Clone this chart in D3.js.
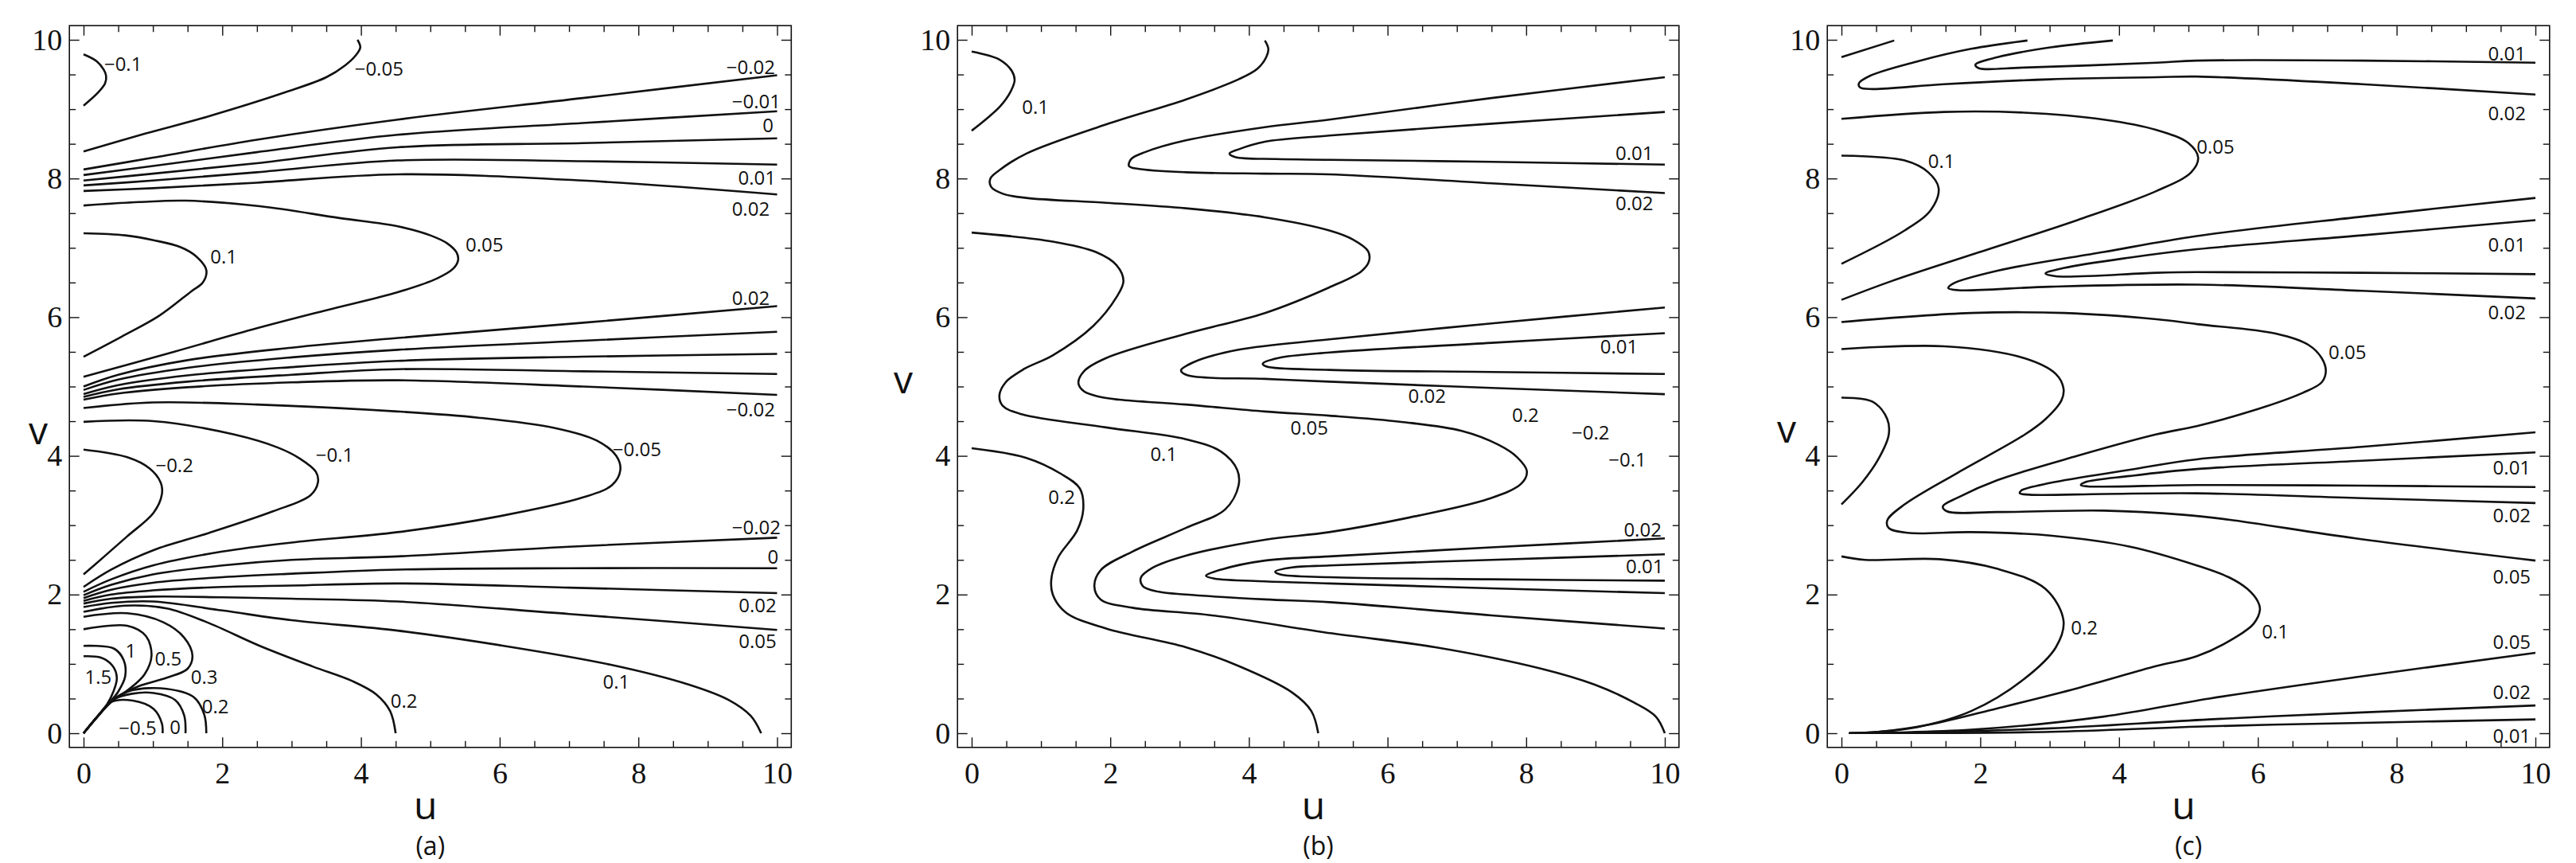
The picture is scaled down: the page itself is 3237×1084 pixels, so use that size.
<!DOCTYPE html>
<html><head><meta charset="utf-8">
<script src="https://cdn.jsdelivr.net/npm/d3@7"></script>
<style>html,body{margin:0;padding:0;background:#fff;}</style>
</head><body>
<svg id="chart" width="3237" height="1084"></svg>
<script>
// ---------- tick values ----------
const majorTicks = [0, 2, 4, 6, 8, 10];
const tickLabels = ["0", "2", "4", "6", "8", "10"];
const minorTicks = d3.range(0, 10.01, 0.5).filter(t => t % 2 !== 0);

// ---------- panel (a) contours: [u, v] points ----------
const contoursA = [
  {level: "−0.1", pts: [[0,9.79],[0.19,9.69],[0.29,9.57],[0.325,9.48],[0.31,9.37],[0.21,9.24],[0,9.05]]},
  {level: "−0.05", pts: [[0,8.39],[0.9,8.65],[1.78,8.89],[2.93,9.25],[3.50,9.46],[3.77,9.63],[3.92,9.77],[3.99,9.89],[3.95,10.0]]},
  {level: "−0.02", pts: [[0,8.13],[1,8.30],[2.5,8.56],[4.53,8.85],[7.2,9.16],[10,9.49]]},
  {level: "−0.01", pts: [[0,8.05],[1,8.18],[2.5,8.38],[4.53,8.63],[7.2,8.80],[10,8.97]]},
  {level: "0", pts: [[0,7.97],[1,8.07],[2.5,8.22],[4.53,8.45],[7.2,8.51],[10,8.58]]},
  {level: "0.01", pts: [[0,7.90],[1,7.97],[2.5,8.09],[4.53,8.26],[7.2,8.25],[10,8.20]]},
  {level: "0.02", pts: [[0,7.82],[1,7.86],[2.5,7.94],[4.53,8.06],[7.2,7.97],[10,7.77]]},
  {level: "0.05", pts: [[0,7.61],[0.8,7.66],[1.47,7.68],[2.54,7.60],[3.69,7.43],[4.53,7.31],[5.0,7.18],[5.25,7.06],[5.38,6.93],[5.40,6.82],[5.33,6.70],[5.10,6.56],[4.53,6.36],[3.5,6.10],[2.5,5.84],[1.3,5.50],[0,5.14]]},
  {level: "0.1", pts: [[0,7.21],[0.6,7.18],[1.01,7.11],[1.40,7.01],[1.62,6.88],[1.77,6.68],[1.72,6.50],[1.55,6.37],[1.09,6.02],[0.55,5.72],[0,5.43]]},
  {level: "0.02", pts: [[0,5.00],[0.5,5.17],[1.5,5.38],[3,5.56],[4.53,5.70],[7.2,5.92],[10,6.16]]},
  {level: "0.01", pts: [[0,4.95],[0.5,5.10],[1.5,5.27],[3,5.42],[4.53,5.53],[7.2,5.66],[10,5.79]]},
  {level: "0", pts: [[0,4.89],[0.5,5.02],[1.5,5.16],[3,5.28],[4.53,5.37],[7.2,5.43],[10,5.47]]},
  {level: "−0.01", pts: [[0,4.85],[0.5,4.96],[1.5,5.07],[3,5.17],[4.53,5.25],[7.2,5.22],[10,5.18]]},
  {level: "−0.02", pts: [[0,4.81],[0.5,4.90],[1.5,4.99],[3,5.06],[4.53,5.09],[7.2,5.00],[10,4.88]]},
  {level: "−0.05", pts: [[0,4.69],[1.0,4.77],[2.5,4.74],[4.53,4.64],[5.7,4.55],[6.8,4.40],[7.4,4.22],[7.68,4.00],[7.74,3.80],[7.62,3.58],[7.2,3.40],[6.0,3.13],[4.53,2.90],[3.0,2.75],[2.0,2.62],[1.0,2.42],[0.4,2.22],[0,2.04]]},
  {level: "−0.1", pts: [[0,4.49],[1.01,4.50],[2.16,4.31],[2.8,4.12],[3.12,3.96],[3.35,3.77],[3.38,3.62],[3.27,3.43],[2.73,3.20],[1.78,2.88],[1.01,2.64],[0.4,2.36],[0,2.11]]},
  {level: "−0.2", pts: [[0,4.09],[0.63,3.98],[0.95,3.82],[1.11,3.62],[1.13,3.45],[1.01,3.18],[0.63,2.84],[0.3,2.55],[0,2.29]]},
  {level: "−0.02", pts: [[0,1.99],[0.4,2.14],[1.0,2.29],[2.0,2.42],[3.0,2.50],[4.53,2.55],[7,2.69],[10,2.82]]},
  {level: "0", pts: [[0,1.95],[0.4,2.07],[1.0,2.17],[2.0,2.25],[3,2.30],[4.53,2.36],[7,2.38],[10,2.38]]},
  {level: "0.02", pts: [[0,1.91],[0.4,2.00],[1.0,2.06],[2.0,2.11],[3,2.13],[4.53,2.16],[7,2.10],[10,2.02]]},
  {level: "0.05", pts: [[0,1.87],[0.4,1.94],[1.0,1.97],[2.0,1.96],[3,1.94],[4.53,1.90],[7,1.72],[10,1.49]]},
  {level: "0.1", pts: [[0,1.82],[0.4,1.88],[1.0,1.90],[2,1.77],[3,1.63],[4.53,1.48],[6,1.27],[7.59,0.99],[8.73,0.70],[9.3,0.48],[9.62,0.25],[9.77,0]]},
  {level: "0.2", pts: [[0,1.75],[0.6,1.84],[1.2,1.80],[1.78,1.60],[2.54,1.26],[3.31,0.96],[3.88,0.75],[4.22,0.56],[4.42,0.32],[4.50,0]]},
  {level: "0.3", pts: [[0,1.68],[0.63,1.73],[1.15,1.60],[1.45,1.38],[1.57,1.12],[1.50,0.93],[1.20,0.80],[0.80,0.68],[0.45,0.50],[0.2,0.24],[0,0]]},
  {level: "0.5", pts: [[0,1.50],[0.63,1.55],[0.90,1.40],[0.98,1.12],[0.88,0.85],[0.65,0.63],[0.42,0.47],[0.2,0.24],[0,0]]},
  {level: "1", pts: [[0,1.26],[0.44,1.22],[0.58,1.05],[0.60,0.82],[0.50,0.60],[0.38,0.45],[0.2,0.24],[0,0]]},
  {level: "1.5", pts: [[0,1.11],[0.25,1.09],[0.42,0.97],[0.48,0.80],[0.43,0.60],[0.34,0.42],[0.18,0.22],[0,0]]},
  {level: "0.2", pts: [[0,0],[0.2,0.24],[0.45,0.50],[0.7,0.62],[1.20,0.64],[1.59,0.52],[1.74,0.27],[1.77,0]]},
  {level: "0", pts: [[0,0],[0.2,0.24],[0.42,0.48],[0.7,0.57],[1.01,0.58],[1.32,0.48],[1.45,0.26],[1.47,0]]},
  {level: "−0.5", pts: [[0,0],[0.2,0.24],[0.40,0.45],[0.71,0.47],[1.01,0.35],[1.13,0.14],[1.14,0]]}
];
const labelsA = [
  ["−0.1",0.57,9.66],["−0.05",4.26,9.59],["−0.02",9.62,9.62],["−0.01",9.70,9.12],["0",9.87,8.78],
  ["0.01",9.71,8.02],["0.02",9.62,7.57],["0.1",2.02,6.88],["0.05",5.78,7.06],["0.02",9.62,6.29],
  ["−0.02",9.62,4.68],["−0.2",1.31,3.88],["−0.1",3.62,4.02],["−0.05",7.98,4.11],["−0.02",9.70,2.98],
  ["0",9.94,2.55],["0.02",9.72,1.85],["0.05",9.72,1.34],["0.1",7.68,0.75],["0.2",4.62,0.48],
  ["1.5",0.21,0.82],["1",0.68,1.20],["0.5",1.22,1.09],["0.3",1.74,0.82],["0.2",1.90,0.40],
  ["0",1.32,0.10],["−0.5",0.78,0.09]
];

// ---------- panel (b) contours ----------
const contoursB = [
  {level: "0.1", pts: [[0,9.83],[0.41,9.71],[0.58,9.55],[0.62,9.42],[0.56,9.25],[0.41,9.04],[0.2,8.85],[0,8.69]]},
  {level: "0.05", pts: [[4.23,9.99],[4.28,9.87],[4.25,9.75],[4.12,9.58],[3.85,9.43],[3.09,9.14],[1.94,8.78],[0.79,8.36],[0.40,8.12],[0.27,8.00],[0.28,7.88],[0.45,7.78],[0.79,7.72],[1.94,7.65],[3.09,7.57],[4.23,7.44],[5.16,7.25],[5.50,7.12],[5.72,6.95],[5.73,6.80],[5.62,6.66],[5.16,6.43],[4.23,6.06],[3.09,5.76],[1.94,5.41],[1.62,5.22],[1.54,5.05],[1.62,4.93],[1.85,4.85],[2.13,4.81],[3.09,4.74],[4.23,4.64],[5.16,4.58],[6.2,4.49],[7.07,4.36],[7.6,4.16],[7.87,3.98],[8.01,3.78],[7.93,3.60],[7.46,3.38],[6.31,3.11],[5.16,2.90],[4.23,2.79],[3.09,2.56],[2.6,2.38],[2.44,2.24],[2.47,2.12],[2.7,2.04],[3.09,2.00],[4.23,1.93],[5.16,1.89],[7.5,1.70],[10,1.51]]},
  {level: "0.02", pts: [[10,9.46],[7.5,9.16],[5.16,8.85],[4.23,8.74],[3.09,8.55],[2.5,8.38],[2.30,8.28],[2.27,8.18],[2.40,8.14],[3.09,8.09],[4.23,8.07],[5.16,8.06],[7.5,7.93],[10,7.79]]},
  {level: "0.01", pts: [[10,8.96],[7.5,8.79],[5.16,8.62],[4.23,8.53],[3.85,8.42],[3.72,8.36],[3.80,8.31],[4.39,8.28],[5.16,8.27],[7.5,8.24],[10,8.20]]},
  {level: "0.02", pts: [[10,6.14],[7.5,5.91],[5.16,5.68],[3.85,5.53],[3.2,5.35],[3.02,5.23],[3.12,5.16],[4.23,5.11],[5.16,5.07],[7.5,4.98],[10,4.89]]},
  {level: "0.01", pts: [[10,5.77],[7.5,5.63],[5.16,5.49],[4.42,5.41],[4.20,5.33],[4.25,5.29],[5.16,5.24],[7.5,5.21],[10,5.18]]},
  {level: "0.02", pts: [[10,2.81],[7.5,2.68],[5.16,2.55],[4.23,2.49],[3.6,2.36],[3.38,2.27],[3.5,2.23],[4.23,2.19],[5.16,2.16],[7.5,2.09],[10,2.02]]},
  {level: "0.01", pts: [[10,2.58],[7.5,2.50],[5.16,2.42],[4.62,2.39],[4.38,2.33],[4.45,2.29],[5.16,2.25],[7.5,2.22],[10,2.20]]},
  {level: "0.1", pts: [[0,7.22],[1.17,7.09],[1.79,6.94],[2.09,6.75],[2.19,6.52],[2.09,6.29],[1.75,5.87],[1.17,5.45],[0.75,5.25],[0.49,5.06],[0.40,4.87],[0.45,4.72],[0.72,4.60],[1.94,4.41],[3.09,4.24],[3.60,4.06],[3.83,3.80],[3.85,3.57],[3.66,3.23],[3.09,2.96],[2.32,2.62],[1.86,2.35],[1.77,2.12],[1.86,1.93],[2.32,1.81],[3.47,1.70],[5.2,1.44],[6.69,1.24],[8.22,0.93],[8.99,0.70],[9.56,0.44],[9.87,0.24],[10,0]]},
  {level: "0.2", pts: [[0,4.11],[0.79,3.97],[1.29,3.74],[1.56,3.53],[1.61,3.23],[1.52,2.92],[1.25,2.54],[1.15,2.23],[1.17,2.0],[1.36,1.74],[1.94,1.51],[3.09,1.24],[3.85,0.97],[4.62,0.59],[4.90,0.32],[5.0,0]]}
];
const labelsB = [
  ["0.1",0.92,9.04],["0.01",9.56,8.37],["0.02",9.56,7.65],["0.01",9.34,5.58],["0.02",6.57,4.87],
  ["0.05",4.87,4.41],["0.2",7.99,4.60],["−0.2",8.93,4.34],["−0.1",9.46,3.95],["0.1",2.77,4.03],
  ["0.2",1.30,3.42],["0.02",9.68,2.95],["0.01",9.71,2.42]
];

// ---------- panel (c) contours ----------
const contoursC = [
  {level: "0.05", pts: [[0,9.75],[0.76,9.99]]},
  {level: "0.02", pts: [[2.68,9.99],[1.87,9.87],[1.10,9.69],[0.41,9.48],[0.25,9.37],[0.27,9.31],[0.45,9.29],[1.48,9.36],[3.01,9.43],[4.54,9.46],[5.12,9.47],[7.5,9.36],[10,9.21]]},
  {level: "0.01", pts: [[3.91,9.99],[3.01,9.89],[2.25,9.75],[1.93,9.64],[1.98,9.59],[2.63,9.60],[4.54,9.67],[5.12,9.70],[7.5,9.70],[10,9.67]]},
  {level: "0.05", pts: [[0,8.86],[1.48,8.96],[2.63,8.95],[3.78,8.85],[4.54,8.70],[5.00,8.51],[5.14,8.30],[5.04,8.09],[4.54,7.82],[3.40,7.40],[1.87,6.90],[0.72,6.52],[0,6.25]]},
  {level: "0.1", pts: [[0,8.33],[0.91,8.26],[1.25,8.09],[1.40,7.86],[1.29,7.55],[0.91,7.25],[0,6.77]]},
  {level: "0.02", pts: [[10,7.72],[7.5,7.45],[5.12,7.17],[3.78,6.94],[2.25,6.67],[1.60,6.48],[1.54,6.42],[1.68,6.39],[3.01,6.44],[5.12,6.47],[7.5,6.38],[10,6.27]]},
  {level: "0.01", pts: [[10,7.40],[7.5,7.18],[5.12,6.98],[4.16,6.86],[3.21,6.71],[2.94,6.63],[3.09,6.59],[4.54,6.64],[5.12,6.65],[7.5,6.64],[10,6.62]]},
  {level: "0.05", pts: [[0,5.93],[1.87,6.06],[3.21,6.06],[4.54,5.97],[5.12,5.90],[6.27,5.76],[6.73,5.60],[6.92,5.41],[6.98,5.22],[6.92,5.06],[6.65,4.91],[5.89,4.64],[5.12,4.43],[4.54,4.31],[3.40,4.00],[2.25,3.65],[1.68,3.40],[1.46,3.27],[1.52,3.20],[2.25,3.19],[3.78,3.21],[4.93,3.15],[5.58,3.08],[7.41,2.81],[10,2.49]]},
  {level: "0.02", pts: [[10,4.34],[7.5,4.13],[5.12,3.95],[4.16,3.80],[3.01,3.61],[2.59,3.50],[2.57,3.46],[2.71,3.44],[3.78,3.45],[5.12,3.46],[7.5,3.39],[10,3.32]]},
  {level: "0.01", pts: [[10,4.05],[7.5,3.93],[5.12,3.81],[4.16,3.71],[3.51,3.62],[3.45,3.58],[3.55,3.56],[5.12,3.58],[7.5,3.57],[10,3.55]]},
  {level: "0.1", pts: [[0,5.54],[1.48,5.58],[2.63,5.41],[3.09,5.18],[3.20,4.97],[3.17,4.80],[2.94,4.53],[2.63,4.30],[1.68,3.76],[0.91,3.30],[0.66,3.07],[0.68,2.96],[0.95,2.89],[1.87,2.90],[3.01,2.85],[4.16,2.69],[5.12,2.42],[5.58,2.25],[5.85,2.08],[6.0,1.90],[6.03,1.78],[5.94,1.58],[5.69,1.39],[5.12,1.11],[4.54,0.97],[3.40,0.65],[2.25,0.36],[1.29,0.13],[0.53,0.02],[0.11,0]]},
  {level: "0.2", pts: [[0,2.55],[0.34,2.50],[1.41,2.51],[2.25,2.37],[2.94,2.08],[3.20,1.62],[3.09,1.24],[2.63,0.78],[1.87,0.32],[1.10,0.09],[0.53,0.02],[0.11,0]]},
  {level: "0.2", pts: [[0,4.84],[0.45,4.78],[0.66,4.53],[0.68,4.30],[0.53,3.95],[0.3,3.62],[0,3.30]]},
  {level: "0.05", pts: [[0.11,0],[0.72,0.01],[1.87,0.05],[3.78,0.24],[5.3,0.50],[7.5,0.82],[10,1.16]]},
  {level: "0.02", pts: [[0.11,0],[1.10,0.01],[3.01,0.07],[5.3,0.20],[7.5,0.30],[10,0.40]]},
  {level: "0.01", pts: [[0.11,0],[1.10,0.003],[3.01,0.02],[5.3,0.10],[7.5,0.15],[10,0.20]]}
];
const labelsC = [
  ["0.01",9.59,9.81],["0.02",9.59,8.95],["0.05",5.39,8.47],["0.1",1.44,8.26],["0.01",9.59,7.06],
  ["0.02",9.59,6.08],["0.05",7.29,5.51],["0.01",9.66,3.84],["0.02",9.66,3.15],["0.05",9.66,2.27],
  ["0.2",3.50,1.53],["0.1",6.25,1.47],["0.05",9.66,1.33],["0.02",9.66,0.60],["0.01",9.66,-0.03]
];

const panelNames = ["(a)", "(b)", "(c)"];

// ---------- layout (pixels) ----------
const layout = [
  {x0: 105,  x1: 976.5, vx: 48,   vy: 558, contours: contoursA, labels: labelsA},
  {x0: 1221, x1: 2092,  vx: 1135, vy: 494, contours: contoursB, labels: labelsB},
  {x0: 2314, x1: 3186,  vx: 2245, vy: 556, contours: contoursC, labels: labelsC}
];
const yTop = 50, yBot = 921, pad = 17.8;

const svg = d3.select("#chart");
svg.append("rect").attr("width", 3237).attr("height", 1084).attr("fill", "#fff");

layout.forEach((P, i) => {
  const x = d3.scaleLinear().domain([0, 10]).range([P.x0, P.x1]);
  const y = d3.scaleLinear().domain([0, 10]).range([yBot, yTop]);
  const L = P.x0 - pad, R = P.x1 + pad, T = yTop - pad, B = yBot + pad;
  const g = svg.append("g");

  const clipId = "clip" + i;
  g.append("clipPath").attr("id", clipId).append("rect")
    .attr("x", x(0) - 1).attr("y", y(10) - 1)
    .attr("width", x(10) - x(0) + 2).attr("height", y(0) - y(10) + 2);

  // contour lines
  const line = d3.line().x(d => x(d[0])).y(d => y(d[1])).curve(d3.curveCatmullRom.alpha(0.5));
  g.append("g").attr("clip-path", `url(#${clipId})`)
    .selectAll("path").data(P.contours).join("path")
    .attr("d", d => line(d.pts))
    .attr("fill", "none").attr("stroke", "#111").attr("stroke-width", 2.6)
    .attr("stroke-linejoin", "round").attr("stroke-linecap", "butt");

  // contour labels
  g.append("g").selectAll("text").data(P.labels).join("text")
    .attr("x", d => x(d[1])).attr("y", d => y(d[2]))
    .attr("text-anchor", "middle").attr("dominant-baseline", "central")
    .attr("font-family", "'Open Sans', 'Noto Sans', sans-serif").attr("font-size", 24)
    .attr("fill", "#111").text(d => d[0]);

  // axes (ticks inward)
  const tickFont = "'Liberation Serif', 'DejaVu Serif', serif";
  function addAxis(axis, tx, ty, labels) {
    const a = g.append("g").attr("transform", `translate(${tx},${ty})`).call(axis);
    a.select(".domain").remove();
    a.selectAll("line").attr("stroke", "#111").attr("stroke-width", 1.4);
    if (labels) {
      a.selectAll("text").attr("font-family", tickFont).attr("font-size", 38).attr("fill", "#111");
    }
  }
  const fmt = (d) => tickLabels[majorTicks.indexOf(d)];
  addAxis(d3.axisBottom(x).tickValues(majorTicks).tickSizeInner(-12.5).tickSizeOuter(0).tickPadding(18).tickFormat(fmt), 0, B, true);
  addAxis(d3.axisBottom(x).tickValues(minorTicks).tickSizeInner(-8).tickSizeOuter(0).tickFormat(""), 0, B, false);
  addAxis(d3.axisTop(x).tickValues(majorTicks).tickSizeInner(-12.5).tickSizeOuter(0).tickFormat(""), 0, T, false);
  addAxis(d3.axisTop(x).tickValues(minorTicks).tickSizeInner(-8).tickSizeOuter(0).tickFormat(""), 0, T, false);
  addAxis(d3.axisLeft(y).tickValues(majorTicks).tickSizeInner(-12.5).tickSizeOuter(0).tickPadding(9).tickFormat(fmt), L, 0, true);
  addAxis(d3.axisLeft(y).tickValues(minorTicks).tickSizeInner(-8).tickSizeOuter(0).tickFormat(""), L, 0, false);
  addAxis(d3.axisRight(y).tickValues(majorTicks).tickSizeInner(-12.5).tickSizeOuter(0).tickFormat(""), R, 0, false);
  addAxis(d3.axisRight(y).tickValues(minorTicks).tickSizeInner(-8).tickSizeOuter(0).tickFormat(""), R, 0, false);

  // frame
  g.append("rect").attr("x", L).attr("y", T).attr("width", R - L).attr("height", B - T)
    .attr("fill", "none").attr("stroke", "#111").attr("stroke-width", 1.6);

  // axis titles
  const titleFont = "'Open Sans', 'Noto Sans', sans-serif";
  g.append("text").attr("x", x(4.93)).attr("y", 1029).attr("text-anchor", "middle")
    .attr("font-family", titleFont).attr("font-size", 48).attr("fill", "#111").text("u");
  g.append("text").attr("x", P.vx).attr("y", P.vy).attr("text-anchor", "middle")
    .attr("font-family", titleFont).attr("font-size", 48).attr("fill", "#111").text("v");
  g.append("text").attr("x", x(5)).attr("y", 1074).attr("text-anchor", "middle")
    .attr("font-family", titleFont).attr("font-size", 32).attr("fill", "#111").text(panelNames[i]);
});
</script>
</body></html>
